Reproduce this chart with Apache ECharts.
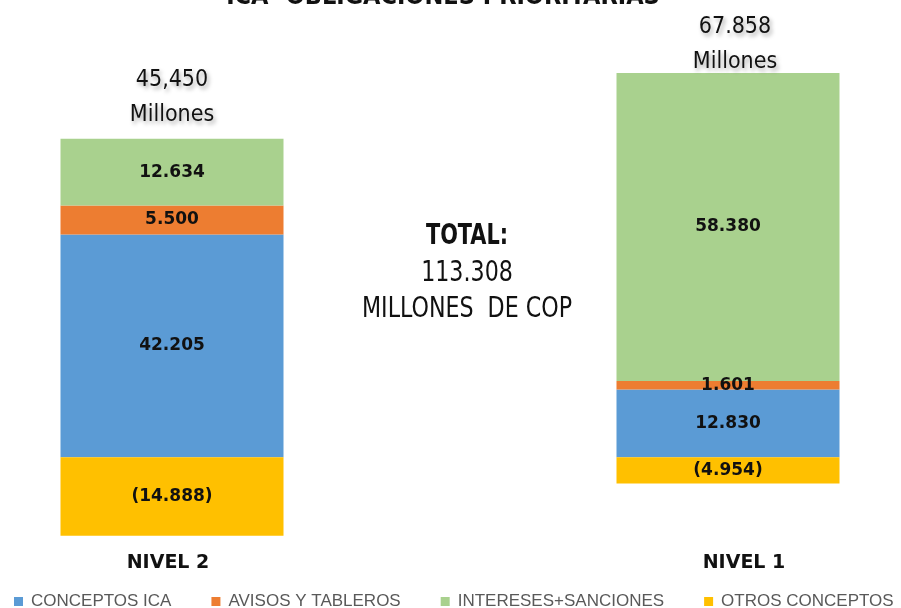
<!DOCTYPE html>
<html>
<head>
<meta charset="utf-8">
<script src="https://cdn.jsdelivr.net/npm/echarts@6/dist/echarts.min.js"></script>
<style>
  html, body { margin: 0; padding: 0; background: #fff; }
  #chart { width: 901px; height: 608px; }
</style>
</head>
<body>
<div id="chart"></div>
<script>
var categories = ['NIVEL 2', 'NIVEL 1'];
var conceptosIca = [42205, 12830];
var avisosTableros = [5500, 1601];
var interesesSanciones = [12634, 58380];
var otrosConceptos = [-14888, -4954];
var totalLabels = ['45,450', '67.858'];
var grandTotal = '113.308';

var narrow = "'Liberation Sans Narrow', 'DejaVu Sans Condensed', sans-serif";
var shadow = { shadowBlur: 4, shadowColor: 'rgba(0,0,0,0.35)', shadowOffsetX: 2, shadowOffsetY: 3 };

function fmt(n) {
    var s = Math.abs(n).toString().replace(/\B(?=(\d{3})+(?!\d))/g, '.');
    return n < 0 ? '(' + s + ')' : s;
}

function barSeries(name, data, color) {
    return {
        name: name,
        type: 'bar',
        stack: 'total',
        barWidth: 223,
        clip: false,
        data: data,
        itemStyle: { color: color },
        label: {
            show: true,
            position: 'inside',
            color: '#111',
            fontFamily: 'DejaVu Sans',
            fontWeight: 'bold',
            fontSize: 17,
            formatter: function (p) { return fmt(p.value); }
        }
    };
}

// top of the positive part of each stack, where the total label sits
var positiveTop = categories.map(function (c, i) {
    return conceptosIca[i] + avisosTableros[i] + interesesSanciones[i];
});

function centerText(text, y, size, bold, sx) {
    return {
        type: 'text', x: 467, y: y, scaleX: sx,
        style: Object.assign({
            text: text, textAlign: 'center', textVerticalAlign: 'middle',
            fontFamily: narrow, fontWeight: bold ? 'bold' : 'normal', fontSize: size, fill: '#111'
        }, shadow)
    };
}

var chart = echarts.init(document.getElementById('chart'));

var option = {
    animation: false,
    title: {
        text: 'ICA- OBLIGACIONES PRIORITARIAS',
        left: 438,
        textAlign: 'center',
        top: -20,
        textStyle: { fontFamily: narrow, fontWeight: 'bold', fontSize: 25, color: '#111' }
    },
    grid: { left: 172, right: 173, top: 35, bottom: 61 },
    legend: {
        left: 9,
        top: 588,
        icon: 'rect',
        itemWidth: 9,
        itemHeight: 9,
        itemGap: 40,
        data: ['CONCEPTOS ICA', 'AVISOS Y TABLEROS', 'INTERESES+SANCIONES', 'OTROS CONCEPTOS'],
        textStyle: { color: '#595959', fontSize: 17, fontFamily: "'Liberation Sans', Arial, sans-serif", padding: [0, 0, 0, 3] }
    },
    xAxis: {
        type: 'category',
        data: categories,
        boundaryGap: false,
        axisLine: { show: false },
        axisTick: { show: false },
        axisLabel: {
            margin: 7,
            formatter: function (v, i) { return i === 0 ? '{l|' + v + '}' : '{r|' + v + '}'; },
            rich: {
                l: { fontFamily: 'DejaVu Sans', fontWeight: 'bold', fontSize: 19, color: '#111', padding: [0, 8, 0, 0] },
                r: { fontFamily: 'DejaVu Sans', fontWeight: 'bold', fontSize: 19, color: '#111', padding: [0, 0, 0, 32] }
            }
        }
    },
    yAxis: {
        type: 'value',
        min: -17000,
        max: 80000,
        show: false,
        splitLine: { show: false }
    },
    graphic: [
        centerText('TOTAL:', 236, 29, true, 0.8),
        centerText(grandTotal, 273, 29, false, 0.85),
        centerText('MILLONES  DE COP', 310, 28, false, 0.88)
    ],
    series: [
        barSeries('CONCEPTOS ICA', conceptosIca, '#5B9BD5'),
        barSeries('AVISOS Y TABLEROS', avisosTableros, '#ED7D31'),
        barSeries('INTERESES+SANCIONES', interesesSanciones, '#A9D18E'),
        barSeries('OTROS CONCEPTOS', otrosConceptos, '#FFC000'),
        {
            name: 'total',
            type: 'scatter',
            symbolSize: 0,
            clip: false,
            itemStyle: { opacity: 1 },
            data: positiveTop.map(function (v, i) {
                return {
                    value: v,
                    label: i === 0 ? { distance: 6 } : { distance: -7, offset: [7, 0] }
                };
            }),
            label: {
                show: true,
                position: 'top',
                fontFamily: narrow,
                fontSize: 23,
                lineHeight: 35,
                color: '#111',
                opacity: 1,
                textShadowColor: 'rgba(0,0,0,0.35)',
                textShadowBlur: 4,
                textShadowOffsetX: 2,
                textShadowOffsetY: 3,
                formatter: function (p) { return totalLabels[p.dataIndex] + '\nMillones'; }
            }
        }
    ]
};

chart.setOption(option);

window.onresize = chart.resize;
</script>
</body>
</html>
